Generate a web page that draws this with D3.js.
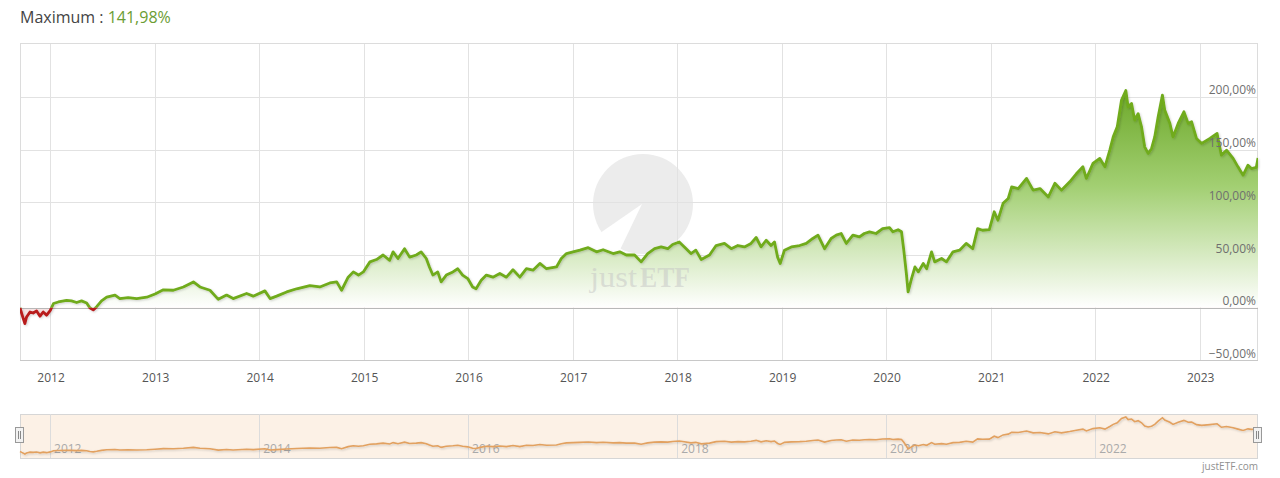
<!DOCTYPE html>
<html><head><meta charset="utf-8">
<script src="https://cdn.jsdelivr.net/npm/d3@7"></script>
<style>
body{margin:0;background:#fff;}
svg{display:block;font-family:"Open Sans",sans-serif;}
</style>
</head><body>
<svg id="c" width="1280" height="478"></svg>
<script>
const dates = ["2011-09-18","2011-09-24","2011-10-05","2011-10-11","2011-10-23","2011-11-03","2011-11-15","2011-11-27","2011-12-08","2011-12-20",
"2012-01-02","2012-01-13","2012-01-30","2012-02-28","2012-03-16","2012-04-03","2012-04-20","2012-05-08","2012-05-19","2012-05-31",
"2012-06-12","2012-06-29","2012-07-17","2012-08-15","2012-09-01","2012-09-30","2012-10-30","2012-12-04","2013-01-02","2013-01-31",
"2013-03-07","2013-04-11","2013-05-16","2013-06-08","2013-07-13","2013-08-11","2013-09-09","2013-10-02","2013-11-18","2013-12-11",
"2014-01-21","2014-02-08","2014-03-03","2014-04-07","2014-05-12","2014-06-27","2014-08-01","2014-09-05","2014-09-29","2014-10-16",
"2014-11-08","2014-11-26","2014-12-14","2014-12-31","2015-01-23","2015-02-15","2015-03-10","2015-04-02","2015-04-14","2015-05-01",
"2015-05-24","2015-06-11","2015-07-04","2015-07-21","2015-08-08","2015-08-19","2015-08-31","2015-09-17","2015-09-29","2015-10-17",
"2015-11-09","2015-11-26","2015-12-13","2015-12-31","2016-01-17","2016-01-29","2016-02-16","2016-03-05","2016-03-28","2016-04-21",
"2016-05-14","2016-06-06","2016-06-30","2016-07-23","2016-08-15","2016-09-08","2016-10-01","2016-11-05","2016-11-22","2016-12-10",
"2017-01-02","2017-01-26","2017-02-24","2017-03-25","2017-04-17","2017-05-22","2017-06-14","2017-07-07","2017-08-05","2017-08-28",
"2017-09-20","2017-10-14","2017-11-06","2017-11-29","2017-12-16","2018-01-08","2018-01-26","2018-02-18","2018-03-07","2018-03-26",
"2018-04-24","2018-05-17","2018-06-15","2018-07-09","2018-08-01","2018-08-24","2018-09-16","2018-10-04","2018-10-21","2018-11-08",
"2018-11-25","2018-12-07","2018-12-18","2018-12-27","2019-01-11","2019-02-04","2019-03-05","2019-03-28","2019-04-20","2019-05-08",
"2019-05-31","2019-06-23","2019-07-11","2019-07-28","2019-08-15","2019-09-07","2019-09-30","2019-10-17","2019-11-04","2019-11-27",
"2019-12-20","2020-01-13","2020-01-25","2020-02-12","2020-02-24","2020-03-03","2020-03-12","2020-03-18","2020-03-30","2020-04-11",
"2020-04-23","2020-05-10","2020-05-22","2020-06-08","2020-06-19","2020-07-13","2020-07-30","2020-08-22","2020-09-14","2020-10-07",
"2020-10-30","2020-11-16","2020-12-03","2020-12-27","2021-01-13","2021-01-26","2021-02-13","2021-03-03","2021-03-15","2021-04-07",
"2021-05-06","2021-05-29","2021-06-22","2021-07-21","2021-08-13","2021-09-05","2021-10-04","2021-10-27","2021-11-19","2021-12-01",
"2021-12-24","2022-01-17","2022-02-04","2022-02-21","2022-03-05","2022-03-19","2022-04-03","2022-04-18","2022-04-26","2022-05-08",
"2022-05-19","2022-05-31","2022-06-12","2022-06-23","2022-07-05","2022-07-17","2022-07-28","2022-08-09","2022-08-24","2022-09-01",
"2022-09-19","2022-09-30","2022-10-18","2022-11-07","2022-11-22","2022-12-04","2022-12-21","2023-01-08","2023-02-06","2023-03-03",
"2023-03-18","2023-04-05","2023-04-28","2023-05-15","2023-06-02","2023-06-19","2023-07-01","2023-07-18","2023-07-24"];

const returns = [0,-5.5,-15,-8.7,-4,-5,-3,-8,-4,-7,
-2.4,4,5.5,7,6.5,5,6.5,4.5,0,-2,
1,6.5,10,12,8.7,9.7,8.7,10,13,17,
16.6,19.7,24.5,19.7,16.6,8,12,8.7,13.5,11,
16,8.7,11,15,18,21,19.7,23.5,24.5,16.6,
29,34,31,34,43.5,45.7,50,45,53,46.7,
56,48,50,53,46.7,38.7,31,34,24.5,31,
34,37,31,27.7,19.7,18,26,31,29,32.5,
29,36,29,37,35.6,42,37,38.7,46.7,51.4,
53,54.6,57,53,55,51.4,53,50,50,43.5,
51.4,56,57.7,56,60,62.4,57.7,51.4,54.6,45.7,
50,59,61,56,59,57.7,61,66.6,57.7,64,
59,62.4,48,42,54.6,57.7,59,61,65.7,68.8,
56,65.7,68.8,70.4,61,68.8,67.2,70.4,72,70.4,
75,76,72,74,72,54.6,32.5,15,27.7,38.7,
34,42,37,53,43.5,46.7,43.5,53,54.6,61,
56,75,73.5,74,91,83,99,103.6,114.6,113,
122.6,111.5,113,105,118,111.5,119.4,127,133.6,122.6,
136.8,141.6,133.6,149.4,162,171.5,197,206,190.5,193.7,
178,184,171.5,152.6,146.3,151,162,181,201.6,187.4,
174.8,162,174.8,185.8,174.8,176.3,160.5,155.8,160.5,165.3,
144.7,149.4,141.6,133.6,125.7,135.2,132,133,141.98];

const yTickValues = [-50, 0, 50, 100, 150, 200];
const xTickYears = [2012,2013,2014,2015,2016,2017,2018,2019,2020,2021,2022,2023];
const navTickYears = [2012,2014,2016,2018,2020,2022];
const titleLabel = "Maximum : ";
const titleValue = "141,98%";
const creditText = "justETF.com";
const watermarkParts = ["just", "ETF"];

const parse = d3.timeParse("%Y-%m-%d");
const data = dates.map((d,i)=>({date: parse(d), v: returns[i]}));

const svg = d3.select("#c");
const L = 20, R = 1258, T = 43, B = 360.5;

const x = d3.scaleTime().domain([parse("2011-09-18"), parse("2023-07-24")]).range([L, R]);
const y = d3.scaleLinear().domain([-50, 251]).range([B, T]);

const fmt = v => d3.format(".2f")(v).replace(".", ",") + "%";

const defs = svg.append("defs");
const grad = defs.append("linearGradient").attr("id","areaGrad")
  .attr("gradientUnits","userSpaceOnUse").attr("x1",0).attr("x2",0)
  .attr("y1", y(210)).attr("y2", y(0));
grad.append("stop").attr("offset",0).attr("stop-color","#6ba727");
grad.append("stop").attr("offset",0.45).attr("stop-color","#a2cf72");
grad.append("stop").attr("offset",1).attr("stop-color","#ffffff");

defs.append("clipPath").attr("id","clipUp").append("rect")
  .attr("x",L).attr("y",T).attr("width",R-L).attr("height",y(0)-T);
defs.append("clipPath").attr("id","clipDown").append("rect")
  .attr("x",L).attr("y",y(0)).attr("width",R-L).attr("height",B-y(0));
const sh = defs.append("filter").attr("id","shadow").attr("x","-5%").attr("y","-5%").attr("width","110%").attr("height","120%");
sh.append("feDropShadow").attr("dx",1).attr("dy",1).attr("stdDeviation",1).attr("flood-color","#000").attr("flood-opacity",0.18);

// Title
const title = svg.append("text").attr("x",20).attr("y",23).attr("font-size",16).attr("fill","#444");
title.append("tspan").text(titleLabel);
title.append("tspan").attr("fill","#6b9d33").text(titleValue);

// watermark logo (behind grid)
const wm = svg.append("g");
wm.append("circle").attr("cx",643).attr("cy",204).attr("r",50).attr("fill","#ececec");
wm.append("path").attr("d","M642,204 L590,240 L617,256 Z").attr("fill","#ffffff");

// gridlines vertical
svg.append("g").selectAll("line").data(xTickYears).join("line")
  .attr("x1", d=>Math.round(x(new Date(d,0,1)))+0.5).attr("x2", d=>Math.round(x(new Date(d,0,1)))+0.5)
  .attr("y1", T).attr("y2", B).attr("stroke","#e2e2e2").attr("stroke-width",1);
// gridlines horizontal
svg.append("g").selectAll("line").data(yTickValues.filter(v=>v!==0 && v!==-50)).join("line")
  .attr("x1", L).attr("x2", R).attr("y1", d=>Math.round(y(d))+0.5).attr("y2", d=>Math.round(y(d))+0.5)
  .attr("stroke","#e2e2e2").attr("stroke-width",1);

// frame
svg.append("rect").attr("x",L+0.5).attr("y",T+0.5).attr("width",R-L-1).attr("height",B-T-0.5)
  .attr("fill","none").attr("stroke","#dcdcdc");

// area
const area = d3.area().x(d=>x(d.date)).y0(y(0)).y1(d=>y(d.v));
svg.append("path").datum(data).attr("d",area).attr("fill","url(#areaGrad)").attr("clip-path","url(#clipUp)");
svg.append("path").datum(data).attr("d",area).attr("fill","#f7e4e4").attr("clip-path","url(#clipDown)");

// watermark text (over fill, translucent) as two separate words
const wmText = svg.append("g").attr("font-family","'Liberation Serif','DejaVu Serif',serif")
  .attr("font-size",30).attr("fill","#c4c4c4").attr("fill-opacity",0.5);
wmText.append("text").attr("x",590).attr("y",287).attr("textLength",47)
  .attr("lengthAdjust","spacingAndGlyphs").text(watermarkParts[0]);
wmText.append("text").attr("x",640).attr("y",287).attr("textLength",50).attr("font-weight","bold")
  .attr("lengthAdjust","spacingAndGlyphs").text(watermarkParts[1]);

// zero line
svg.append("line").attr("x1",L).attr("x2",R).attr("y1",Math.round(y(0))+0.5).attr("y2",Math.round(y(0))+0.5)
  .attr("stroke","#b8b8b8").attr("stroke-width",1.2);
// bottom axis line
svg.append("line").attr("x1",L).attr("x2",R).attr("y1",B).attr("y2",B).attr("stroke","#c8c8c8").attr("stroke-width",1.2);

// lines
const line = d3.line().x(d=>x(d.date)).y(d=>y(d.v));
const lg = svg.append("g").attr("filter","url(#shadow)");
lg.append("path").datum(data).attr("d",line).attr("fill","none").attr("stroke","#70ab1c")
  .attr("stroke-width",2.8).attr("stroke-linejoin","round").attr("clip-path","url(#clipUp)");
lg.append("path").datum(data).attr("d",line).attr("fill","none").attr("stroke","#b81b1b")
  .attr("stroke-width",2.8).attr("stroke-linejoin","round").attr("clip-path","url(#clipDown)");

// y labels
svg.append("g").selectAll("text").data(yTickValues).join("text")
  .attr("x", 1256).attr("y", d=>y(d)-2.5).attr("text-anchor","end")
  .attr("font-size",12).attr("fill","#6f6f6f").text(fmt);

// x labels
svg.append("g").selectAll("text").data(xTickYears).join("text")
  .attr("x", d=>x(new Date(d,0,1))+1).attr("y", 382).attr("text-anchor","middle")
  .attr("font-size",12).attr("fill","#555").text(d=>d);

// navigator
const NT = 414, NB = 458;
svg.append("rect").attr("x",L+0.5).attr("y",NT+0.5).attr("width",R-L-1).attr("height",NB-NT)
  .attr("fill","#fcf1e6").attr("stroke","#d6d6d6");
svg.append("g").selectAll("line").data(navTickYears).join("line")
  .attr("x1", d=>Math.round(x(new Date(d,0,1)))+0.5).attr("x2", d=>Math.round(x(new Date(d,0,1)))+0.5)
  .attr("y1", NT).attr("y2", NB).attr("stroke","#dcdcdc");
svg.append("g").selectAll("text").data(navTickYears).join("text")
  .attr("x", d=>x(new Date(d,0,1))+4).attr("y", 453).attr("font-size",12).attr("fill","#aaaaaa").text(d=>d);
const ny = d3.scaleLinear().domain([d3.min(returns), d3.max(returns)]).range([454, 417]);
svg.append("path").datum(data).attr("d", d3.line().x(d=>x(d.date)).y(d=>ny(d.v)))
  .attr("fill","none").attr("stroke","#e2a160").attr("stroke-width",1.6).attr("filter","url(#shadow)");
// handles
[L, R].forEach(hx=>{
  const g = svg.append("g");
  g.append("rect").attr("x",hx-4.5).attr("y",427.5).attr("width",8).attr("height",15)
    .attr("fill","#f2f2f2").attr("stroke","#999");
  g.append("line").attr("x1",hx-1.5).attr("x2",hx-1.5).attr("y1",431).attr("y2",439).attr("stroke","#888");
  g.append("line").attr("x1",hx+0.5).attr("x2",hx+0.5).attr("y1",431).attr("y2",439).attr("stroke","#888");
});

// credit
svg.append("text").attr("x",1258).attr("y",470).attr("text-anchor","end")
  .attr("font-size",10).attr("fill","#909090").text(creditText);
</script>
</body></html>
